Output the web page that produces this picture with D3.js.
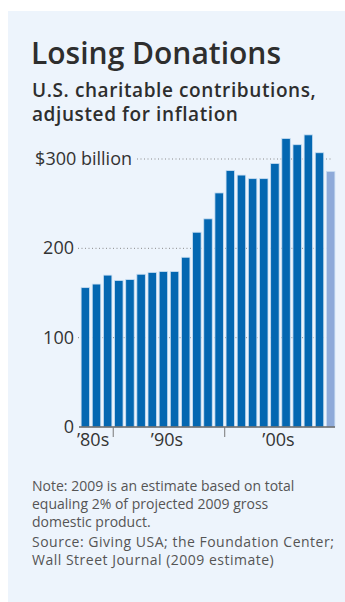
<!DOCTYPE html>
<html>
<head>
<meta charset="utf-8">
<script src="https://cdn.jsdelivr.net/npm/d3@7"></script>
<style>
  body { margin: 0; background: #fff; }
  svg { display: block; }
  .ttl { font-family: "Open Sans", sans-serif; fill: #2e2e2e; }
</style>
</head>
<body>
<div id="chart"></div>
<script>
// Data (billions, inflation adjusted)
const years = [1987, 1988, 1989, 1990, 1991, 1992, 1993, 1994, 1995, 1996, 1997, 1998,
               1999, 2000, 2001, 2002, 2003, 2004, 2005, 2006, 2007, 2008, 2009];
const values = [156, 160, 170, 164, 165, 171, 173, 174, 174, 190, 218, 233,
                262, 287, 282, 278, 278, 295, 323, 316, 327, 307, 286];
const estimateYear = 2009;
const yTicks = [0, 100, 200, 300];
const decades = [
  { label: "\u201980s", from: 1987, to: 1989 },
  { label: "\u201990s", from: 1990, to: 1999 },
  { label: "\u201900s", from: 2000, to: 2009 }
];
const noteLines = [
  "Note: 2009 is an estimate based on total",
  "equaling 2% of projected 2009 gross",
  "domestic product."
];
const sourceLines = [
  "Source: Giving USA; the Foundation Center;",
  "Wall Street Journal (2009 estimate)"
];

const W = 345, H = 602;
const svg = d3.select('#chart').append('svg')
  .attr('width', W)
  .attr('height', H);

// panel background
svg.append('rect')
  .attr('x', 8).attr('y', 11)
  .attr('width', W - 8).attr('height', H - 11)
  .attr('fill', '#edf4fc');

// headings
svg.append('text')
  .attr('class', 'ttl')
  .attr('x', 31).attr('y', 64)
  .style('font-size', '30px')
  .style('font-weight', 600)
  .text('Losing Donations');

const subs = ['U.S. charitable contributions,', 'adjusted for inflation'];
svg.append('g')
  .selectAll('text')
  .data(subs)
  .enter()
  .append('text')
  .attr('class', 'ttl')
  .attr('x', 32)
  .attr('y', (d, i) => 97 + i * 24)
  .style('font-size', '19px')
  .style('font-weight', 600)
  .style('letter-spacing', '0.6px')
  .text(d => d);

// scales
const x = d3.scaleBand()
  .domain(years)
  .range([80, 336])
  .paddingInner(0.24)
  .paddingOuter(0.1);

const y = d3.scaleLinear()
  .domain([0, 300])
  .range([427, 159]);

const gap = x.step() * x.paddingInner();

// grid lines (dotted)
const gridStart = { 300: 137, 200: 78, 100: 78 };
svg.append('g')
  .selectAll('line')
  .data(yTicks.filter(d => d > 0))
  .enter()
  .append('line')
  .attr('x1', d => gridStart[d])
  .attr('x2', 332)
  .attr('y1', d => y(d))
  .attr('y2', d => y(d))
  .attr('stroke', '#8a8a8a')
  .attr('stroke-width', 1)
  .attr('stroke-dasharray', '1,2.5');

// bars
svg.append('g')
  .selectAll('rect')
  .data(years)
  .enter()
  .append('rect')
  .attr('x', d => x(d))
  .attr('y', (d, i) => y(values[i]))
  .attr('width', x.bandwidth())
  .attr('height', (d, i) => y(0) - y(values[i]))
  .attr('fill', d => d === estimateYear ? '#8eaad9' : '#0467b1')
  .attr('stroke', '#c9def2')
  .attr('stroke-width', 0.8);

// y labels
svg.append('g')
  .selectAll('text')
  .data(yTicks)
  .enter()
  .append('text')
  .attr('x', d => d === 300 ? 132 : 74)
  .attr('y', d => y(d) + 6)
  .attr('text-anchor', 'end')
  .style('font-family', '"Open Sans", sans-serif')
  .style('font-size', '18px')
  .attr('fill', '#333')
  .text(d => d === 300 ? '$300 billion' : d);

// x axis baseline
svg.append('line')
  .attr('x1', 79).attr('x2', 335)
  .attr('y1', y(0)).attr('y2', y(0))
  .attr('stroke', '#666')
  .attr('stroke-width', 1.5);

// decade ticks
svg.append('g')
  .selectAll('line')
  .data(decades.slice(1))
  .enter()
  .append('line')
  .attr('x1', d => x(d.from) - gap / 2)
  .attr('x2', d => x(d.from) - gap / 2)
  .attr('y1', y(0))
  .attr('y2', y(0) + 10)
  .attr('stroke', '#777')
  .attr('stroke-width', 1);

// decade labels: first one sits just left of the '90 tick, the rest centred
svg.append('g')
  .selectAll('text')
  .data(decades)
  .enter()
  .append('text')
  .attr('x', (d, i) => i === 0
    ? x(decades[1].from) - gap / 2 - 4
    : (x(d.from) + x(d.to) + x.bandwidth()) / 2 - 2)
  .attr('y', 446)
  .attr('text-anchor', (d, i) => i === 0 ? 'end' : 'middle')
  .style('font-family', '"Open Sans", sans-serif')
  .style('font-size', '18px')
  .attr('fill', '#333')
  .text(d => d.label);

// notes
const foot = svg.append('g')
  .style('font-family', '"Open Sans", sans-serif')
  .style('font-size', '14px')
  .attr('fill', '#555');

foot.selectAll('.note')
  .data(noteLines)
  .enter()
  .append('text')
  .attr('class', 'note')
  .attr('x', 32)
  .attr('y', (d, i) => 491 + i * 18)
  .text(d => d);

foot.selectAll('.src')
  .data(sourceLines)
  .enter()
  .append('text')
  .attr('class', 'src')
  .attr('x', 32)
  .attr('y', (d, i) => 547 + i * 18)
  .style('letter-spacing', '0.5px')
  .text(d => d);
</script>
</body>
</html>
